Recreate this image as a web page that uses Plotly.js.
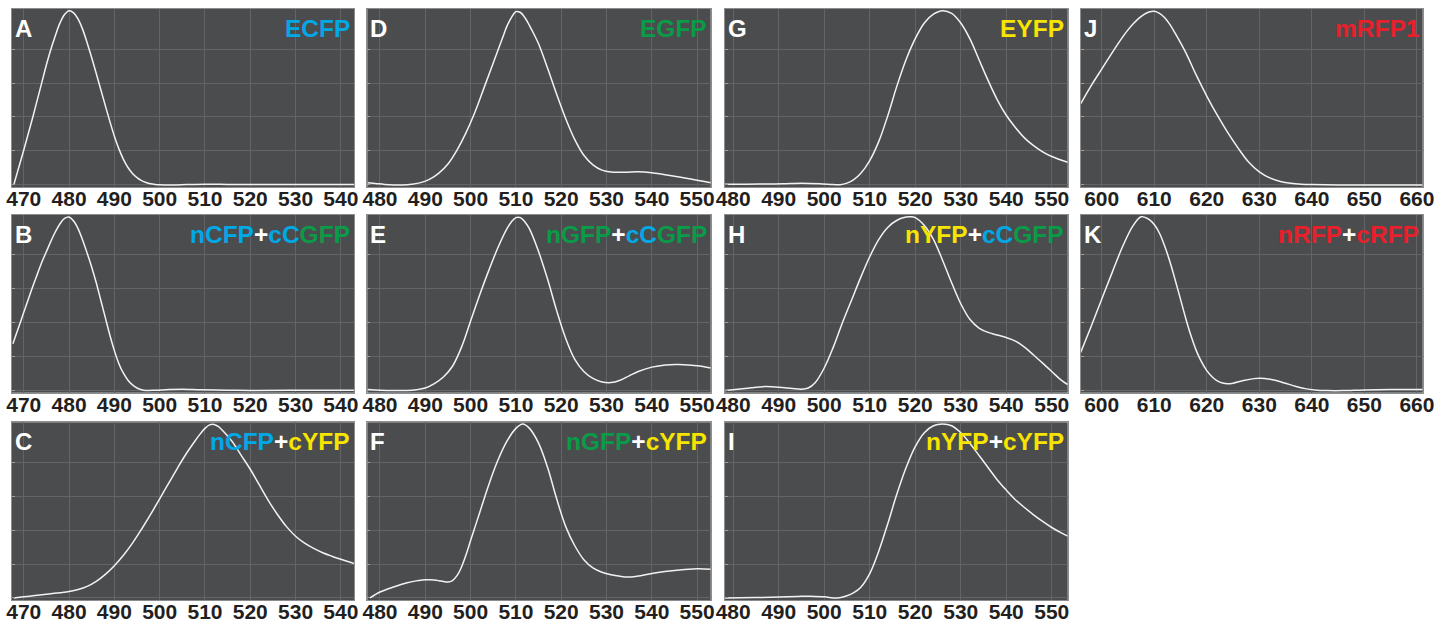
<!DOCTYPE html>
<html>
<head>
<meta charset="utf-8">
<script src="https://cdn.plot.ly/plotly-3.0.1.min.js"></script>
<style>html,body{margin:0;padding:0;background:#fff;}#chart{width:1449px;height:624px;}</style>
</head>
<body>
<div id="chart"></div>
<script>
// Panel A: ECFP
const aX = [467.8,468,469,470,471,472,473,474,475,476,477,478,479,480,481,482,483,484,485,486,487,488,489,490,491,492,493,494,495,496,497,498,499,500,503,506,510,515,520,525,530,535,542.9];
const aY = [0,0.02,0.11,0.2,0.295,0.39,0.49,0.59,0.69,0.78,0.86,0.93,0.978,1.0,0.988,0.952,0.893,0.815,0.73,0.64,0.548,0.455,0.365,0.28,0.207,0.147,0.1,0.066,0.042,0.025,0.014,0.007,0.003,0.001,0,0.002,0.004,0.003,0.002,0.002,0.002,0.003,0.002];
// Panel B: nCFP+cCGFP
const bX = [467.6,468,469,470,471,472,473,474,475,476,477,478,479,480,481,482,483,484,485,486,487,488,489,490,491,492,493,494,495,496,497,499,502,505,509,515,520,530,543];
const bY = [0.27,0.3,0.375,0.45,0.525,0.6,0.67,0.74,0.8,0.86,0.915,0.96,0.99,0.998,0.975,0.93,0.865,0.79,0.71,0.62,0.52,0.42,0.32,0.23,0.155,0.1,0.06,0.033,0.015,0.005,0.001,0.002,0.006,0.008,0.005,0.002,0.001,0.002,0.002];
// Panel C: nCFP+cYFP
const cX = [467.8,470,472,474,476,478,480,482,484,486,488,490,492,494,496,498,500,502,504,506,508,509,510,511,512,513,514,516,518,520,522,524,526,528,530,532,534,536,538,540,542.9];
const cY = [0,0.006,0.012,0.018,0.024,0.03,0.037,0.048,0.066,0.095,0.135,0.185,0.245,0.315,0.395,0.48,0.57,0.66,0.75,0.835,0.91,0.945,0.975,0.995,0.998,0.985,0.96,0.9,0.82,0.74,0.65,0.56,0.48,0.41,0.355,0.315,0.285,0.26,0.24,0.222,0.198];
// Panel D: EGFP
const dX = [477.3,479,481,483,485,487,489,491,493,495,497,499,501,503,505,507,508,509,510,511,512,513,514,515,517,519,521,523,525,527,529,531,534,537,540,545,550,553];
const dY = [0.012,0.008,0.003,0,0,0.004,0.013,0.033,0.068,0.12,0.2,0.3,0.42,0.56,0.7,0.84,0.91,0.96,0.995,0.99,0.96,0.915,0.865,0.81,0.67,0.52,0.38,0.26,0.17,0.115,0.085,0.074,0.073,0.076,0.07,0.05,0.027,0.012];
// Panel E: nGFP+cCGFP
const eX = [477.3,480,483,486,488,490,492,494,496,498,500,502,504,506,508,509,510,511,512,513,515,517,519,521,523,525,527,529,531,533,535,537,540,543,546,550,553];
const eY = [0.006,0.002,0,0.001,0.005,0.015,0.04,0.078,0.14,0.25,0.4,0.55,0.69,0.82,0.93,0.97,0.995,0.995,0.97,0.93,0.8,0.64,0.46,0.3,0.18,0.11,0.07,0.05,0.046,0.06,0.085,0.11,0.135,0.148,0.15,0.143,0.13];
// Panel F: nGFP+cYFP
const fX = [477.8,480,483,486,488,489,490,491,492,493,494,495,496,497,498,499,500,501,502,504,506,508,510,511.5,513,515,517,519,521,523,525,527,529,531,533,535,538,541,545,550,553];
const fY = [0,0.034,0.063,0.087,0.098,0.102,0.104,0.105,0.103,0.099,0.094,0.091,0.1,0.128,0.178,0.248,0.33,0.41,0.49,0.65,0.79,0.9,0.975,1.0,0.975,0.89,0.75,0.57,0.41,0.3,0.22,0.173,0.148,0.133,0.124,0.12,0.13,0.145,0.158,0.168,0.165];
// Panel G: EYFP
const gX = [478.2,483,487,491,495,499,502,503.5,505,506.5,508,510,512,514,516,518,520,522,524,526,528,530,532,534,536,538,540,542,544,546,548,550,553.5];
const gY = [0.004,0.004,0.005,0.007,0.01,0.007,0.002,0.001,0.01,0.03,0.065,0.14,0.25,0.4,0.57,0.72,0.84,0.93,0.98,1.0,0.985,0.93,0.84,0.72,0.6,0.49,0.4,0.33,0.27,0.225,0.19,0.163,0.13];
// Panel H: nYFP+cCGFP
const hX = [478.2,481,484,487,490,493,495,496.5,498,500,502,504,506,508,510,512,514,516,518,519,520,522,524,526,528,530,532,534,536,538,540,542,544,546,548,550,552,553.5];
const hY = [0,0.008,0.017,0.023,0.02,0.012,0.008,0.015,0.045,0.13,0.25,0.39,0.52,0.65,0.77,0.87,0.94,0.98,0.998,1.0,0.995,0.95,0.87,0.75,0.62,0.5,0.41,0.36,0.335,0.32,0.305,0.285,0.25,0.205,0.158,0.11,0.062,0.035];
// Panel I: nYFP+cYFP
const iX = [478.2,485,490,494,497,500,503,505,506.5,508,510,512,514,516,518,520,522,524,526,528,530,532,534,536,538,540,542,544,546,548,550,552,553.5];
const iY = [0,0.002,0.005,0.008,0.01,0.006,0,0.012,0.03,0.06,0.14,0.27,0.43,0.6,0.75,0.87,0.95,0.99,1.0,0.99,0.95,0.89,0.82,0.75,0.68,0.62,0.565,0.52,0.478,0.44,0.405,0.375,0.355];
// Panel J: mRFP1
const jX = [596,598,600,602,604,605,606,607,608,609,610,611,612,613,614,616,618,620,622,624,626,628,630,632,634,636,638,640,645,661.1];
const jY = [0.466,0.57,0.665,0.76,0.85,0.89,0.925,0.955,0.978,0.993,0.997,0.985,0.96,0.92,0.87,0.76,0.63,0.51,0.4,0.3,0.21,0.13,0.075,0.04,0.02,0.009,0.004,0.002,0,0];
// Panel K: nRFP+cRFP
const kX = [596,598,600,602,604,606,607.5,609,610,611,612,613,614,615,616,617,618,619,620,621,622,623,624,625,627,629,630,631,633,635,637,639,641,643,646,650,655,661.1];
const kY = [0.22,0.37,0.526,0.68,0.83,0.95,1.0,0.985,0.955,0.905,0.83,0.74,0.635,0.525,0.415,0.315,0.23,0.165,0.115,0.08,0.056,0.044,0.04,0.043,0.058,0.069,0.071,0.07,0.06,0.042,0.024,0.01,0.002,0,0,0.004,0.006,0.006];

const panelLetters = ['A','B','C','D','E','F','G','H','I','J','K'];
const CY = '#00a9e6', GR = '#0a9b48', YE = '#f7e400', RE = '#e8202b', WH = '#ffffff';
const panelTitles = [
  [['ECFP',CY]],
  [['nCFP',CY],['+',WH],['cC',CY],['GFP',GR]],
  [['nCFP',CY],['+',WH],['cYFP',YE]],
  [['EGFP',GR]],
  [['nGFP',GR],['+',WH],['cC',CY],['GFP',GR]],
  [['nGFP',GR],['+',WH],['cYFP',YE]],
  [['EYFP',YE]],
  [['nYFP',YE],['+',WH],['cC',CY],['GFP',GR]],
  [['nYFP',YE],['+',WH],['cYFP',YE]],
  [['mRFP1',RE]],
  [['nRFP',RE],['+',WH],['cRFP',RE]]
];
const seriesX = [aX,bX,cX,dX,eX,fX,gX,hX,iX,jX,kX];
const seriesY = [aY,bY,cY,dY,eY,fY,gY,hY,iY,jY,kY];

// layout geometry (pixels)
const W = 1449, H = 624;
const colPx = [[12,354],[367.3,710.7],[725,1067.7],[1080.7,1422.7]];
const rowPx = [[9,187],[215,392.7],[422.3,600]];
const colRange = [[467.4,542.9],[477.2,553],[478.2,553.5],[596,661.1]];

const FONT = 'Liberation Sans, Arial, Helvetica, sans-serif';
const traces = [], annotations = [];
const layout = {
  width: W, height: H,
  margin: {l:0,r:0,t:0,b:0},
  paper_bgcolor: '#ffffff',
  plot_bgcolor: '#4b4c4e',
  showlegend: false,
  font: {family: FONT}
};

for (let p = 0; p < 11; p++) {
  const col = Math.floor(p / 3), row = p % 3;
  const n = p + 1;
  const xa = n === 1 ? 'x' : 'x' + n;
  const ya = n === 1 ? 'y' : 'y' + n;
  traces.push({
    x: seriesX[p], y: seriesY[p], xaxis: xa, yaxis: ya,
    type: 'scatter', mode: 'lines',
    line: {color: '#f2f2f2', width: 1.5, shape: 'spline', smoothing: 1},
    hoverinfo: 'skip'
  });
  const xk = n === 1 ? 'xaxis' : 'xaxis' + n;
  const yk = n === 1 ? 'yaxis' : 'yaxis' + n;
  layout[xk] = {
    domain: [colPx[col][0]/W, colPx[col][1]/W],
    range: colRange[col], anchor: ya,
    dtick: 10, tick0: 0,
    showgrid: true, gridcolor: '#636466', gridwidth: 1,
    zeroline: false,
    showline: true, mirror: true, linecolor: '#8c8d8f', linewidth: 1,
    ticks: '', ticklabelstandoff: -7,
    tickfont: {family: FONT, size: 21, color: '#231f20', weight: 'bold'},
    fixedrange: true
  };
  layout[yk] = {
    domain: [1 - rowPx[row][1]/H, 1 - rowPx[row][0]/H],
    range: [-0.012, 1.01], anchor: xa,
    tickvals: [0, 0.195, 0.39, 0.585, 0.78],
    showticklabels: false,
    showgrid: true, gridcolor: '#636466', gridwidth: 1,
    zeroline: false,
    showline: true, mirror: true, linecolor: '#8c8d8f', linewidth: 1,
    ticks: 'inside', ticklen: 3, tickcolor: '#a0a0a0',
    fixedrange: true
  };
  annotations.push({
    xref: xa + ' domain', yref: ya + ' domain',
    x: 0, y: 1, xanchor: 'left', yanchor: 'top', xshift: 1, yshift: -4,
    text: panelLetters[p], showarrow: false,
    font: {family: FONT, size: 24, color: '#ffffff', weight: 'bold'}
  });
  annotations.push({
    xref: xa + ' domain', yref: ya + ' domain',
    x: 1, y: 1, xanchor: 'right', yanchor: 'top', xshift: -2, yshift: -4,
    text: panelTitles[p].map(s => '<span style="color:' + s[1] + '">' + s[0] + '</span>').join(''),
    showarrow: false,
    font: {family: FONT, size: 24.5, color: '#ffffff', weight: 'bold'}
  });
}
layout.annotations = annotations;

Plotly.newPlot('chart', traces, layout, {displayModeBar: false, staticPlot: true});
</script>
</body>
</html>
